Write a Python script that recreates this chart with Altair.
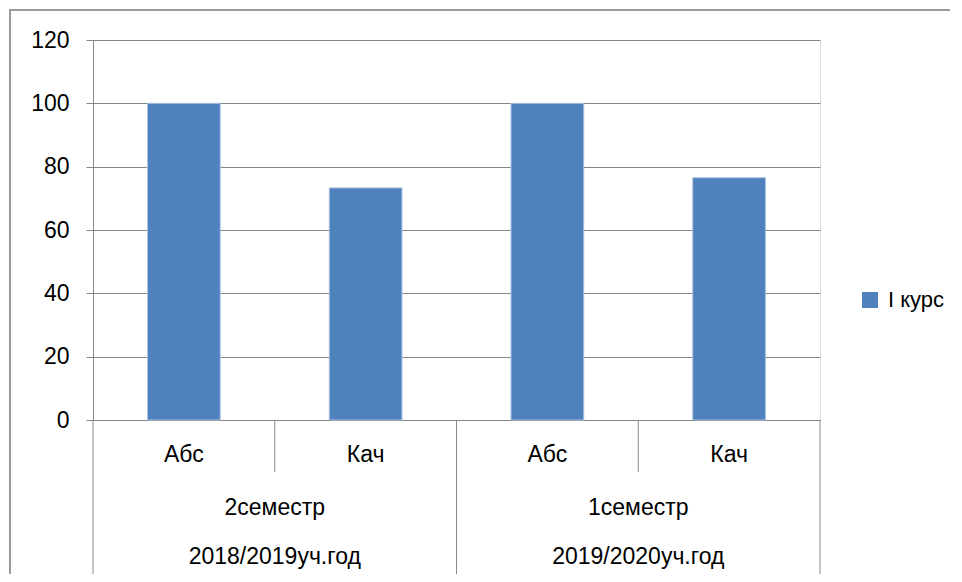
import altair as alt
import pandas as pd

# ---- data ----
categories = ["Абс", "Кач", "Абс", "Кач"]
values = [100, 73.3, 100, 76.5]
semesters = ["2семестр", "1семестр"]
years = ["2018/2019уч.год", "2019/2020уч.год"]
series_name = "I курс"
y_ticks = [0, 20, 40, 60, 80, 100, 120]

W, H = 727, 380
GRAY = "#868686"
FONT = "Liberation Sans"
FS = 23

bars_df = pd.DataFrame({
    "x0": [i + 0.3 for i in range(len(categories))],
    "x1": [i + 0.7 for i in range(len(categories))],
    "value": values,
    "base": [0] * len(categories),
    "series": [series_name] * len(categories),
})
cat_df = pd.DataFrame({"pos": [i + 0.5 for i in range(len(categories))], "label": categories})
grp_df = pd.DataFrame({
    "pos": [2 * g + 1 for g in range(len(semesters))],
    "sem": semesters,
    "year": years,
})
short_sep = pd.DataFrame({"pos": [2 * g + 1 for g in range(len(semesters))]})
long_sep = pd.DataFrame({"pos": [2 * g for g in range(len(semesters) + 1)]})

xscale = alt.Scale(domain=[0, len(categories)], nice=False, zero=False)
yscale = alt.Scale(domain=[0, 120], nice=False)

bars = alt.Chart(bars_df).mark_bar(stroke="#A9C1E0", strokeWidth=1).encode(
    x=alt.X("x0:Q", scale=xscale,
            axis=alt.Axis(labels=False, ticks=False, grid=False, domain=True,
                          domainColor=GRAY, title=None)),
    x2="x1:Q",
    y=alt.Y("value:Q", scale=yscale,
            axis=alt.Axis(values=y_ticks, title=None, grid=True, gridColor=GRAY,
                          domainColor=GRAY, tickColor=GRAY, tickSize=7,
                          labelPadding=17, labelFont=FONT, labelFontSize=FS,
                          labelColor="#000000")),
    y2="base:Q",
    color=alt.Color("series:N", scale=alt.Scale(range=["#4F81BD"]),
                    legend=alt.Legend(title=None, orient="none", legendX=766, legendY=249,
                                      symbolType="square", symbolSize=256,
                                      symbolStrokeWidth=0, labelFont=FONT,
                                      labelFontSize=22, labelColor="#000000",
                                      labelOffset=7, padding=0)),
)

cat_text = alt.Chart(cat_df).mark_text(font=FONT, fontSize=FS, color="#000000",
                                       baseline="middle").encode(
    x=alt.X("pos:Q", scale=xscale), y=alt.value(H + 35), text="label:N")

sem_text = alt.Chart(grp_df).mark_text(font=FONT, fontSize=FS, color="#000000",
                                       baseline="middle").encode(
    x=alt.X("pos:Q", scale=xscale), y=alt.value(H + 88), text="sem:N")

year_text = alt.Chart(grp_df).mark_text(font=FONT, fontSize=FS, color="#000000",
                                        baseline="middle").encode(
    x=alt.X("pos:Q", scale=xscale), y=alt.value(H + 137), text="year:N")

short_rules = alt.Chart(short_sep).mark_rule(color=GRAY, strokeWidth=1).encode(
    x=alt.X("pos:Q", scale=xscale), y=alt.value(H), y2=alt.value(H + 52))

long_rules = alt.Chart(long_sep).mark_rule(color=GRAY, strokeWidth=1).encode(
    x=alt.X("pos:Q", scale=xscale), y=alt.value(H), y2=alt.value(H + 155))

frame_df = pd.DataFrame({"a": [0]})
border_top = alt.Chart(frame_df).mark_rule(color="#9a9a9a", strokeWidth=2).encode(
    x=alt.value(-84), x2=alt.value(W + 200), y=alt.value(-30))
border_left = alt.Chart(frame_df).mark_rule(color="#9a9a9a", strokeWidth=2).encode(
    x=alt.value(-83), y=alt.value(-30), y2=alt.value(H + 200))

chart = alt.layer(border_top, border_left, bars, short_rules, long_rules,
                  cat_text, sem_text, year_text).properties(
    width=W, height=H,
    autosize=alt.AutoSizeParams(type="none"),
    padding={"left": 85, "top": 32, "right": 130, "bottom": 154},
).configure_view(stroke=None).configure(background="white")

chart.save("out.html", embed_options={"renderer": "svg", "actions": False})
